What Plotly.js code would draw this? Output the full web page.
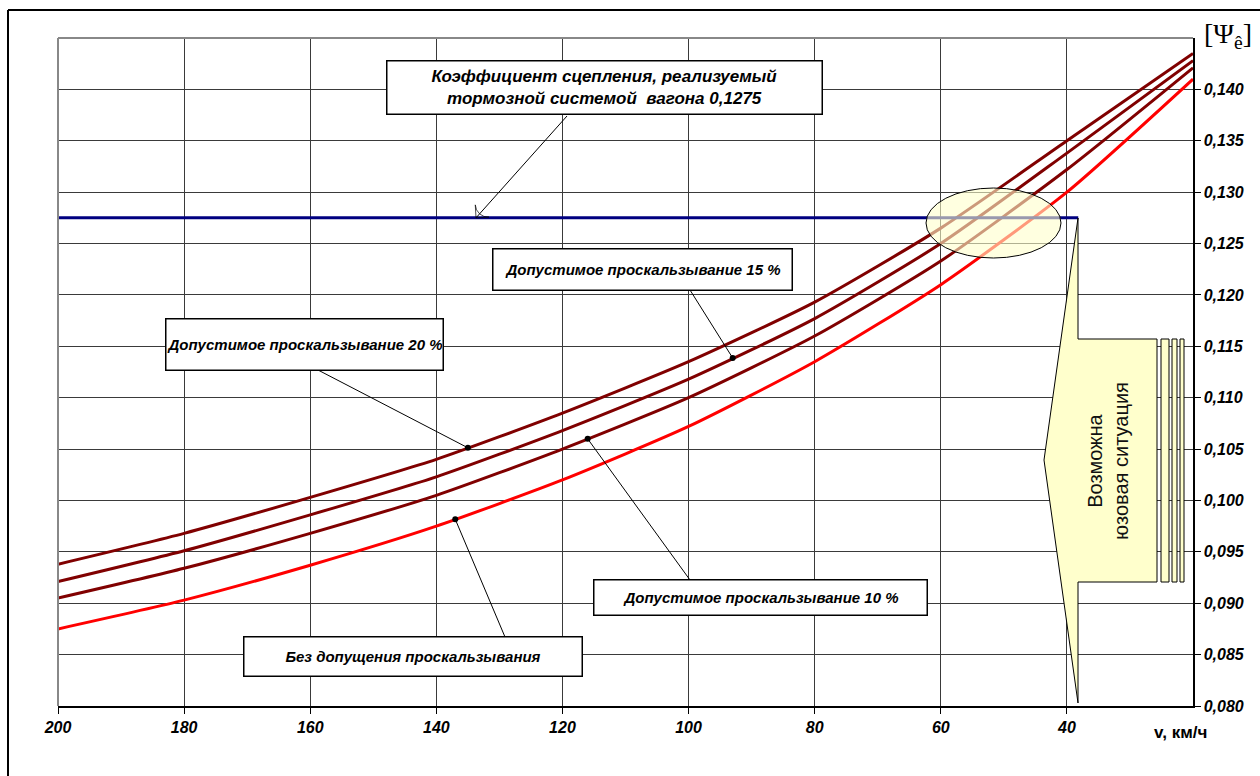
<!DOCTYPE html>
<html>
<head>
<meta charset="utf-8">
<script src="https://cdn.plot.ly/plotly-3.0.1.min.js"></script>
<style>html,body{margin:0;padding:0;background:#fff;}#chart{width:1260px;height:776px;}</style>
</head>
<body>
<div id="chart"></div>
<script>
// ---- data ----
const speeds = [200, 180, 160, 140, 120, 100, 80, 60, 40, 20];
const slip20 = [0.0938, 0.0968, 0.1003, 0.1040, 0.1085, 0.1135, 0.1193, 0.1265, 0.1350, 0.1435];
const slip15 = [0.0921, 0.0951, 0.0986, 0.1023, 0.1068, 0.1118, 0.1177, 0.1250, 0.1338, 0.1428];
const slip10 = [0.0905, 0.0934, 0.0968, 0.1005, 0.1050, 0.1100, 0.1160, 0.1233, 0.1322, 0.1421];
const noSlip = [0.0875, 0.0903, 0.0937, 0.0975, 0.1020, 0.1072, 0.1135, 0.1210, 0.1300, 0.1410];
const brakeLevel = 0.1275;
const brakeSpeeds = [200, 38.2];
const xTicks = [200, 180, 160, 140, 120, 100, 80, 60, 40];
const yTicks = [0.080, 0.085, 0.090, 0.095, 0.100, 0.105, 0.110, 0.115, 0.120, 0.125, 0.130, 0.135, 0.140];
const yTickText = ['0,080','0,085','0,090','0,095','0,100','0,105','0,110','0,115','0,120','0,125','0,130','0,135','0,140'];
const labelBrake = 'Коэффициент сцепления, реализуемый<br>тормозной системой  вагона 0,1275';
const label20 = 'Допустимое проскальзывание 20 %';
const label15 = 'Допустимое проскальзывание 15 %';
const label10 = 'Допустимое проскальзывание 10 %';
const labelNone = 'Без допущения проскальзывания';
const labelSkid = 'Возможна<br>юзовая ситуация';
const xTitle = 'v, км/ч';
// pointer speeds on the curves
const ptr20 = 135, ptr15 = 93, ptr10 = 116, ptrNone = 137;

// ---- geometry helpers (pixel -> axis/paper) ----
const L = 58, R = 1193, T = 38, B = 706;
const XMIN = 200, XMAX = 20, YMIN = 0.08, YMAX = 0.145;
const vx = px => XMIN + (px - L) * (XMAX - XMIN) / (R - L);
const vy = py => YMIN + (B - py) * (YMAX - YMIN) / (B - T);
const PX = px => (px - L) / (R - L);
const PY = py => (B - py) / (B - T);
function interp(xs, ys, x) {
  for (let i = 0; i < xs.length - 1; i++) {
    const a = xs[i], b = xs[i + 1];
    if ((x <= a && x >= b) || (x >= a && x <= b)) {
      const t = (x - a) / (b - a);
      return ys[i] + t * (ys[i + 1] - ys[i]);
    }
  }
  return ys[ys.length - 1];
}

const FONT = 'Arial, "Liberation Sans", sans-serif';
const dark = '#800000';

const traces = [
  {x: speeds, y: slip20, mode: 'lines', line: {color: dark, width: 3, shape: 'spline', smoothing: 0.6}, hoverinfo: 'skip'},
  {x: speeds, y: slip15, mode: 'lines', line: {color: dark, width: 3, shape: 'spline', smoothing: 0.6}, hoverinfo: 'skip'},
  {x: speeds, y: slip10, mode: 'lines', line: {color: dark, width: 3, shape: 'spline', smoothing: 0.6}, hoverinfo: 'skip'},
  {x: speeds, y: noSlip, mode: 'lines', line: {color: '#ff0000', width: 3, shape: 'spline', smoothing: 0.6}, hoverinfo: 'skip'},
  {x: brakeSpeeds, y: [brakeLevel, brakeLevel], mode: 'lines', line: {color: '#000080', width: 3}, hoverinfo: 'skip'},
  // arrow from the brake label to the brake level line
  {x: [vx(567), vx(476)], y: [vy(116), brakeLevel], mode: 'lines+markers', line: {color: '#000', width: 1},
   marker: {symbol: ['circle', 'arrow-wide-open'], size: [0, 13], angleref: 'previous', color: '#000', line: {color: '#000', width: 1}},
   hoverinfo: 'skip'}
];

// pointer lines: dot on curve -> label box
const pointers = [
  {v: ptr20, ys: slip20, to: [318, 370]},
  {v: ptr15, ys: slip15, to: [690, 290]},
  {v: ptr10, ys: slip10, to: [690, 580]},
  {v: ptrNone, ys: noSlip, to: [505, 637]}
];
pointers.forEach(p => {
  const yv = interp(speeds, p.ys, p.v);
  traces.push({x: [p.v, vx(p.to[0])], y: [yv, vy(p.to[1])], mode: 'lines', line: {color: '#000', width: 1}, hoverinfo: 'skip'});
  traces.push({x: [p.v], y: [yv], mode: 'markers', marker: {color: '#000', size: 6}, hoverinfo: 'skip'});
});

function box(cx, cy, w, h, text, size) {
  return {xref: 'paper', yref: 'paper', x: PX(cx), y: PY(cy), xanchor: 'center', yanchor: 'middle',
    text: '<b><i>' + text + '</i></b>', showarrow: false, width: w, height: h, align: 'center', valign: 'middle',
    bgcolor: '#ffffff', bordercolor: '#000', borderwidth: 1.5, borderpad: 0,
    font: {family: FONT, size: size, color: '#000', weight: 'bold', style: 'italic'}};
}

const annotations = [
  box(604, 87, 434, 52, labelBrake, 17),
  box(642, 269, 298, 40, label15, 15),
  box(304, 344, 276, 50, label20, 15),
  box(760, 597, 332, 34, label10, 15),
  box(413, 656, 337, 38, labelNone, 15),
  // skid callout text
  {xref: 'paper', yref: 'paper', x: PX(1108), y: PY(461), xanchor: 'center', yanchor: 'middle',
   text: labelSkid, textangle: -90, showarrow: false,
   font: {family: FONT, size: 20, color: '#111'}, align: 'center'},
  // x title
  {xref: 'paper', yref: 'paper', x: PX(1180), y: PY(732), text: '<b>' + xTitle + '</b>', showarrow: false,
   font: {family: FONT, size: 17, color: '#000', weight: 'bold'}, xanchor: 'center', yanchor: 'middle'},
  // y title
  {xref: 'paper', yref: 'paper', x: PX(1228), y: PY(35), text: '[Ψ<sub>ê</sub>]', showarrow: false,
   font: {family: '"Liberation Serif", "Times New Roman", serif', size: 28, color: '#000'}, xanchor: 'center', yanchor: 'middle'}
];

const calloutPath = 'M ' + PX(1078) + ',' + PY(218) + ' L ' + PX(1044) + ',' + PY(460) + ' L ' + PX(1078) + ',' + PY(703) +
  ' L ' + PX(1078) + ',' + PY(582) + ' L ' + PX(1157) + ',' + PY(582) + ' L ' + PX(1157) + ',' + PY(339) +
  ' L ' + PX(1078) + ',' + PY(339) + ' Z';

const shapes = [
  // outer frame (left and top)
  {type: 'line', xref: 'paper', yref: 'paper', x0: PX(8), y0: PY(10), x1: PX(1300), y1: PY(10), line: {color: '#000', width: 2}},
  {type: 'line', xref: 'paper', yref: 'paper', x0: PX(8), y0: PY(10), x1: PX(8), y1: PY(800), line: {color: '#000', width: 2}},
  // plot border left/top grey
  {type: 'line', xref: 'paper', yref: 'paper', x0: 0, y0: 0, x1: 0, y1: 1, line: {color: '#888', width: 2}},
  {type: 'line', xref: 'paper', yref: 'paper', x0: 0, y0: 1, x1: 1, y1: 1, line: {color: '#888', width: 2}},
  // ellipse
  {type: 'circle', xref: 'x', yref: 'y', x0: vx(926), x1: vx(1061), y0: vy(188), y1: vy(258),
   fillcolor: 'rgba(255,255,204,0.6)', line: {color: '#000', width: 1}, layer: 'above'},
  // callout
  {type: 'path', xref: 'paper', yref: 'paper', path: calloutPath, fillcolor: '#ffffcc', line: {color: '#000', width: 1}, layer: 'above'},
  {type: 'rect', xref: 'paper', yref: 'paper', x0: PX(1161), x1: PX(1169), y0: PY(339), y1: PY(582), fillcolor: '#ffffcc', line: {color: '#000', width: 1}, layer: 'above'},
  {type: 'rect', xref: 'paper', yref: 'paper', x0: PX(1172), x1: PX(1177), y0: PY(339), y1: PY(582), fillcolor: '#ffffcc', line: {color: '#000', width: 1}, layer: 'above'},
  {type: 'rect', xref: 'paper', yref: 'paper', x0: PX(1180), x1: PX(1184), y0: PY(339), y1: PY(582), fillcolor: '#ffffcc', line: {color: '#000', width: 1}, layer: 'above'}
];

const tickFont = {family: FONT, size: 16, color: '#000', weight: 'bold', style: 'italic'};
const layout = {
  width: 1260, height: 776,
  margin: {l: L, r: 1260 - R, t: T, b: 776 - B, pad: 0},
  paper_bgcolor: '#fff', plot_bgcolor: '#fff',
  showlegend: false,
  xaxis: {range: [XMIN, XMAX], tickvals: xTicks, ticktext: xTicks.map(v => '<b><i>' + v + '</i></b>'),
    showgrid: true, gridcolor: '#3a3a3a', gridwidth: 1, zeroline: false,
    showline: true, linecolor: '#000', linewidth: 1.5, ticks: 'outside', ticklen: 6, tickcolor: '#000',
    tickfont: tickFont, fixedrange: true},
  yaxis: {range: [YMIN, YMAX], side: 'right', tickvals: yTicks, ticktext: yTickText.map(t => '<b><i>' + t + '</i></b>'),
    showgrid: true, gridcolor: '#3a3a3a', gridwidth: 1, zeroline: false,
    showline: true, linecolor: '#000', linewidth: 1.5, ticks: 'outside', ticklen: 6, tickcolor: '#000',
    tickfont: tickFont, fixedrange: true},
  shapes: shapes,
  annotations: annotations
};

Plotly.newPlot('chart', traces, layout, {displayModeBar: false, staticPlot: true});
</script>
</body>
</html>
